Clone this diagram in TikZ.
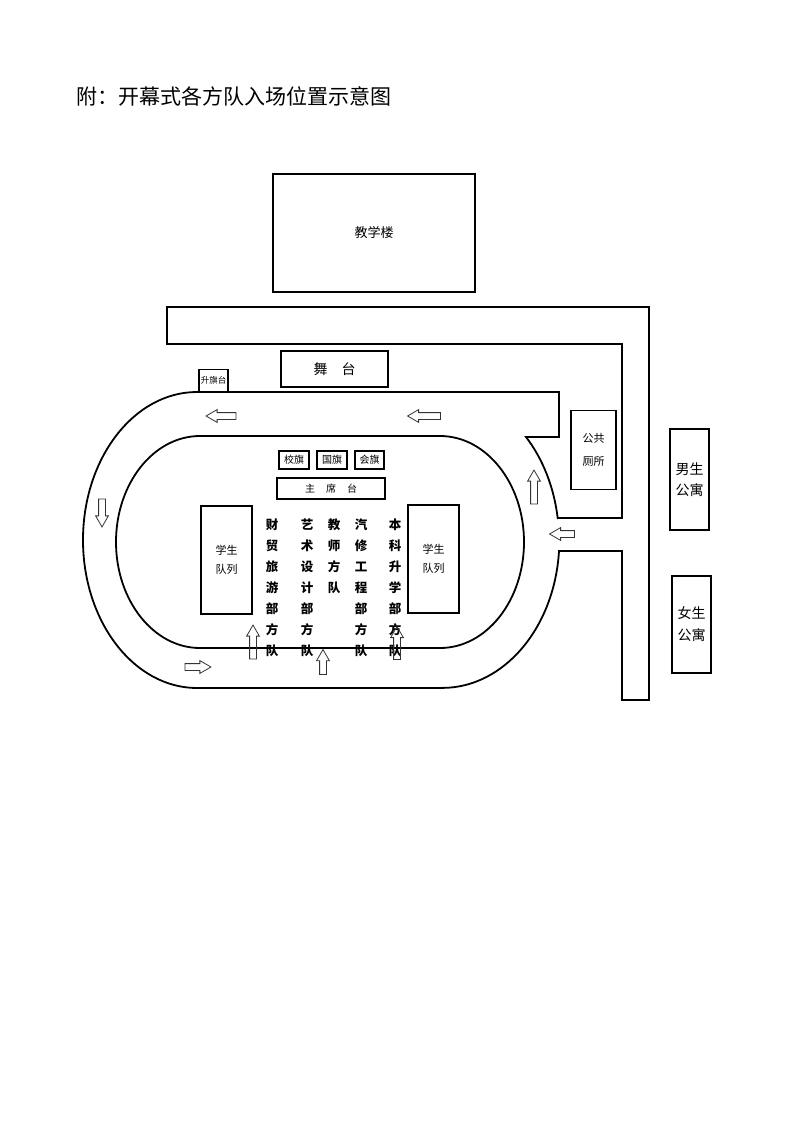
\documentclass[tikz,border=0pt]{standalone}
\usepackage{fontspec}
\newfontfamily\cjk{Noto Sans CJK SC}
\usetikzlibrary{shapes.arrows}
\begin{document}
\begin{tikzpicture}[x=1pt,y=-1pt,
  outline/.style={draw=black, line width=1.8pt, line join=miter},
  box/.style={draw=black, line width=1.8pt, rectangle, inner sep=0pt, outer sep=0pt, align=center},
  flow/.style={single arrow, draw=black!80, line width=0.8pt, minimum width=12pt,
    single arrow head extend=3pt, single arrow tip angle=60, inner sep=3pt, outer sep=0pt},
  col/.style={anchor=north, inner sep=0pt, align=center, font=\cjk\bfseries\fontsize{12.5}{21}\selectfont}
]
\useasboundingbox[fill=white] (0,0) rectangle (793,1122);

% title
\node[anchor=west, inner sep=0pt, font=\cjk\fontsize{21}{24}\selectfont] (title) at (76,96) {附：开幕式各方队入场位置示意图};

% road + outer track (one closed outline)
\draw[outline] (559,518) -- (622,518) -- (622,344) -- (167,344) -- (167,307) -- (649,307)
  -- (649,700) -- (622,700) -- (622,551) -- (559,551)
  arc[start angle=4.3, end angle=90, x radius=117, y radius=148]
  -- (197,688)
  arc[start angle=90, end angle=270, x radius=114, y radius=148]
  -- (559,392) -- (559,437) -- (526,437)
  arc[start angle=-44.1, end angle=-8.5, x radius=117, y radius=148] -- cycle;

% inner track
\draw[outline] (200,436) -- (440,436)
  arc[start angle=-90, end angle=90, x radius=84, y radius=106]
  -- (200,648)
  arc[start angle=90, end angle=270, x radius=84, y radius=106] -- cycle;

% buildings and boxes
\node[box, minimum width=202pt, minimum height=118pt, font=\cjk\fontsize{13}{16}\selectfont] (jxl) at (374,233) {教学楼};
\node[box, minimum width=107pt, minimum height=36pt, font=\cjk\fontsize{14}{16}\selectfont] (wutai) at (334.5,369) {舞　台};
\node[box, minimum width=29pt, minimum height=22pt, font=\cjk\fontsize{8.5}{10}\selectfont] (sqt) at (213.5,380.5) {升旗台};
\node[box, minimum width=45pt, minimum height=79pt, font=\cjk\fontsize{11}{23}\selectfont] (wc) at (593.5,450) {公共\\厕所};
\node[box, minimum width=39pt, minimum height=101pt, font=\cjk\fontsize{14}{21}\selectfont] (boys) at (689.5,479.5) {男生\\公寓};
\node[box, minimum width=39pt, minimum height=97pt, font=\cjk\fontsize{14}{22}\selectfont] (girls) at (691.5,624.5) {女生\\公寓};

\node[box, minimum width=30pt, minimum height=18pt, font=\cjk\fontsize{10}{12}\selectfont] (xq) at (294,460) {校旗};
\node[box, minimum width=30pt, minimum height=18pt, font=\cjk\fontsize{10}{12}\selectfont] (gq) at (332,460) {国旗};
\node[box, minimum width=29pt, minimum height=18pt, font=\cjk\fontsize{10}{12}\selectfont] (hq) at (369.5,460) {会旗};
\node[box, minimum width=108pt, minimum height=21pt, font=\cjk\fontsize{10}{12}\selectfont] (zxt) at (331,488.5) {主\hspace{11pt}席\hspace{11pt}台};

\node[box, minimum width=51pt, minimum height=108pt, font=\cjk\fontsize{11}{19}\selectfont] (stuL) at (226.5,560) {学生\\队列};
\node[box, minimum width=51pt, minimum height=108pt, font=\cjk\fontsize{11}{19}\selectfont] (stuR) at (433.5,559) {学生\\队列};

% team columns
\node[col] (c1) at (272,518.5) {财\\贸\\旅\\游\\部\\方\\队};
\node[col] (c2) at (307,518.5) {艺\\术\\设\\计\\部\\方\\队};
\node[col] (c3) at (334,518.5) {教\\师\\方\\队};
\node[col] (c4) at (361,518.5) {汽\\修\\工\\程\\部\\方\\队};
\node[col] (c5) at (395,518.5) {本\\科\\升\\学\\部\\方\\队};

% direction arrows
\node[flow, minimum height=30pt, shape border rotate=180] (aT1) at (224,416) {};
\node[flow, minimum height=33pt, shape border rotate=180] (aT2) at (427,416) {};
\node[flow, minimum height=34pt, shape border rotate=90] (aR) at (534,490) {};
\node[flow, minimum height=25pt, shape border rotate=180] (aE) at (565,534) {};
\node[flow, minimum height=28pt, shape border rotate=270] (aL) at (102,510) {};
\node[flow, minimum height=26pt, shape border rotate=0] (aB) at (195,667) {};
\node[flow, minimum height=34pt, shape border rotate=90] (aU1) at (253,645) {};
\node[flow, minimum height=25pt, shape border rotate=90] (aU2) at (323,665) {};
\node[flow, minimum height=33pt, shape border rotate=90] (aU3) at (397,646) {};
\end{tikzpicture}
\end{document}
